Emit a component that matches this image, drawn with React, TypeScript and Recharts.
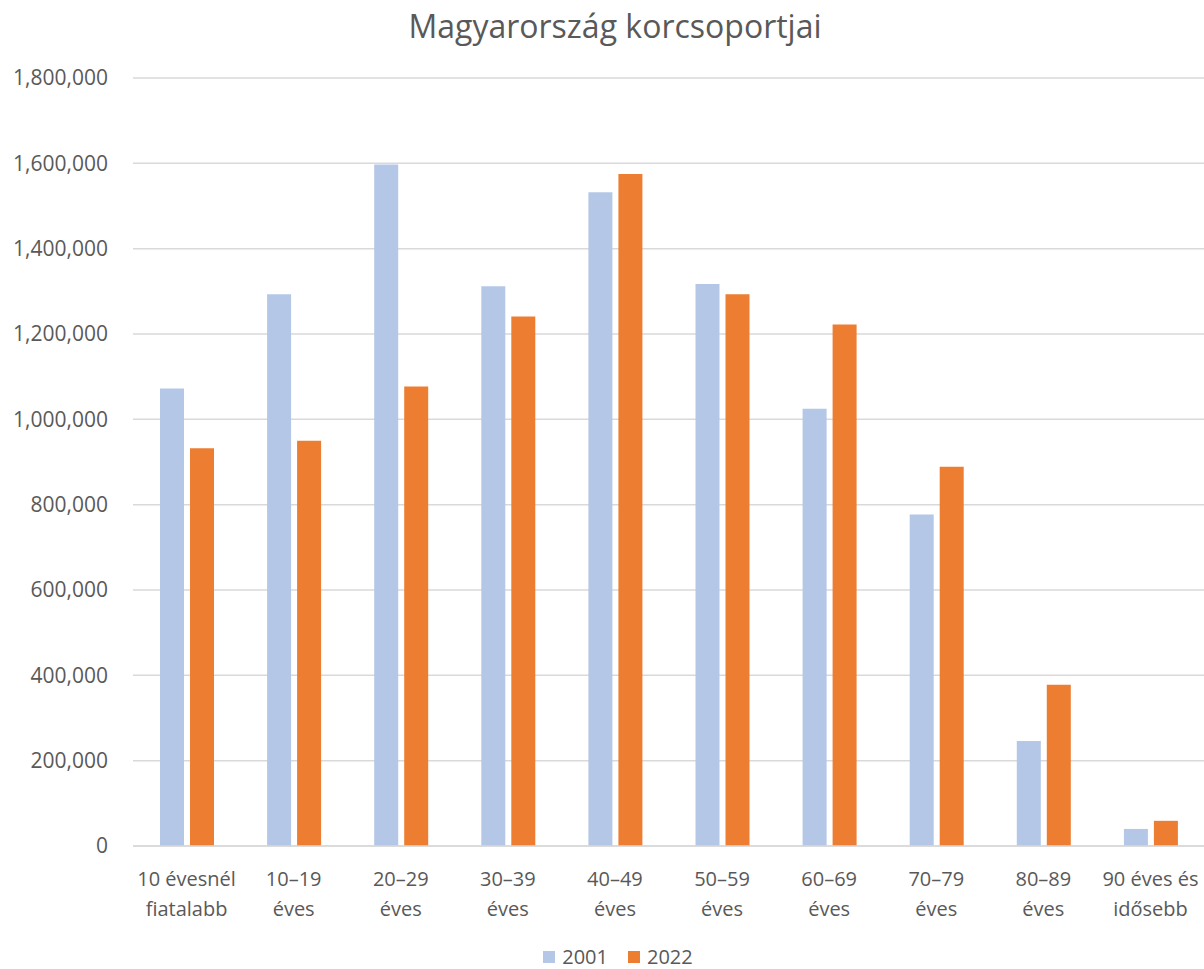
import React from 'react';
import { BarChart, Bar, XAxis, YAxis, CartesianGrid, Legend } from 'recharts';

const categories = [
  ['10 évesnél', 'fiatalabb'],
  ['10–19', 'éves'],
  ['20–29', 'éves'],
  ['30–39', 'éves'],
  ['40–49', 'éves'],
  ['50–59', 'éves'],
  ['60–69', 'éves'],
  ['70–79', 'éves'],
  ['80–89', 'éves'],
  ['90 éves és', 'idősebb'],
];
const values2001 = [1072000, 1293000, 1597000, 1312000, 1532000, 1317000, 1025000, 777000, 246000, 40000];
const values2022 = [932000, 950000, 1077000, 1241000, 1575000, 1293000, 1222000, 889000, 378000, 59000];
const yTicks = [0, 200000, 400000, 600000, 800000, 1000000, 1200000, 1400000, 1600000, 1800000];

const data = categories.map((c, i) => ({
  name: c.join(' '),
  y2001: values2001[i],
  y2022: values2022[i],
}));

const FONT = '"Open Sans", sans-serif';
const TEXT = '#595959';

const CategoryTick = ({ x, y, payload, index }: any) => {
  const lines = categories[index] || [payload.value];
  return (
    <text x={x} y={y} textAnchor="middle" fill={TEXT} fontSize={20} fontFamily={FONT}>
      {lines.map((l: string, i: number) => (
        <tspan key={i} x={x} dy={i === 0 ? 32 : 30}>{l}</tspan>
      ))}
    </text>
  );
};

const LegendContent = () => (
  <div style={{ width: 1204, height: 28, display: 'flex', justifyContent: 'center', alignItems: 'center', paddingLeft: 32, paddingTop: 4, boxSizing: 'border-box', fontFamily: FONT, fontSize: 20, lineHeight: '22px', color: TEXT }}>
    {[{ label: '2001', color: '#B4C7E7' }, { label: '2022', color: '#ED7D31' }].map((it) => (
      <div key={it.label} style={{ display: 'flex', alignItems: 'center', margin: '0 10px' }}>
        <span style={{ width: 12, height: 12, background: it.color, display: 'inline-block', marginRight: 7 }} />
        <span>{it.label}</span>
      </div>
    ))}
  </div>
);

export default function App() {
  return (
    <div style={{ position: 'absolute', left: 0, top: 0, width: 1204, height: 969, background: '#fff' }}>
      <div style={{ position: 'absolute', top: 4, left: 0, width: 1230, textAlign: 'center', fontFamily: FONT, fontSize: 32, color: TEXT }}>
        Magyarország korcsoportjai
      </div>
      <BarChart
        width={1204}
        height={969}
        data={data}
        margin={{ top: 78, right: 0, left: 0, bottom: 0 }}
        barSize={24}
        barGap={6}
      >
        <CartesianGrid vertical={false} stroke="#D9D9D9" strokeWidth={1.5} />
        <XAxis
          dataKey="name"
          interval={0}
          height={95}
          tickLine={false}
          axisLine={{ stroke: '#D9D9D9', strokeWidth: 1.5 }}
          tick={<CategoryTick />}
        />
        <YAxis
          width={133}
          domain={[0, 1800000]}
          ticks={yTicks}
          axisLine={false}
          tickLine={false}
          tickSize={6}
          tickMargin={19}
          tickFormatter={(v: number) => v.toLocaleString('en-US')}
          tick={{ fill: TEXT, fontSize: 21, fontFamily: FONT }}
        />
        <Legend verticalAlign="bottom" height={28} wrapperStyle={{ left: 0, width: 1204 }} content={<LegendContent />} />
        <Bar dataKey="y2001" name="2001" fill="#B4C7E7" isAnimationActive={false} />
        <Bar dataKey="y2022" name="2022" fill="#ED7D31" isAnimationActive={false} />
      </BarChart>
    </div>
  );
}
